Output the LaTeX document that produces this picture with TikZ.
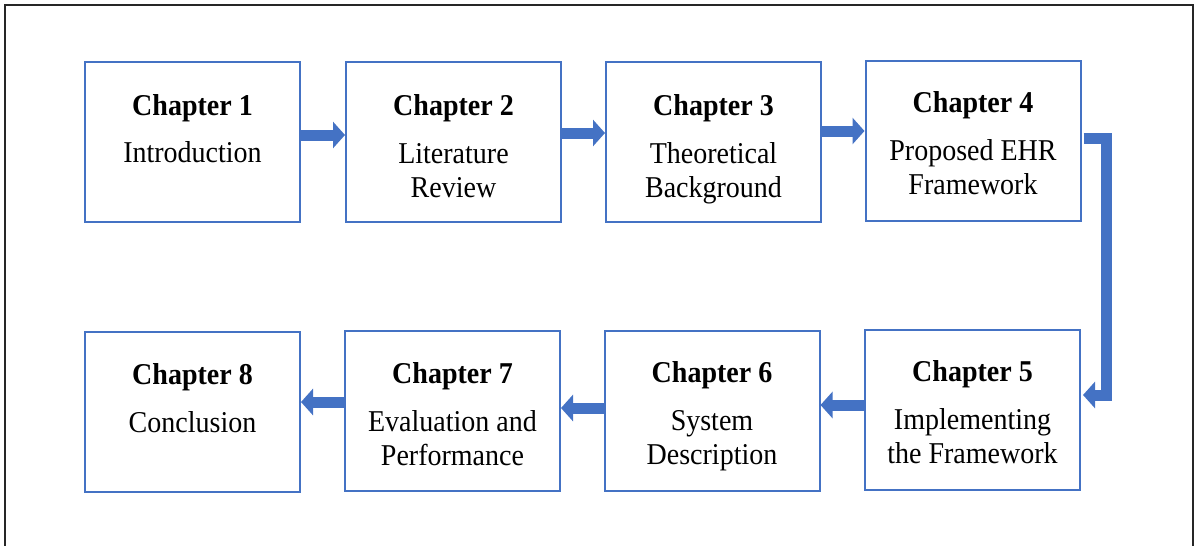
\documentclass[tikz,border=0pt]{standalone}
\usepackage{fontspec}
\setmainfont{Liberation Serif}
\usetikzlibrary{arrows.meta}
\definecolor{ofblue}{HTML}{4472C4}
\tikzset{
  chbox/.style={draw=ofblue, line width=2pt, minimum width=215pt, minimum height=160pt, inner sep=0pt, fill=white},
  chtitle/.style={anchor=base, inner sep=0pt, font=\fontsize{28}{33}\selectfont\bfseries},
  chtext/.style={anchor=base, inner sep=0pt, font=\fontsize{28}{33}\selectfont},
  flow/.style={draw=ofblue, line width=11pt, line join=miter, -{Triangle[width=26pt,length=12pt]}},
}
\newcommand{\tall}[1]{\scalebox{1}[1.08]{#1}}
\begin{document}
\begin{tikzpicture}[x=1pt,y=-1pt]
\useasboundingbox (0,0) rectangle (1197,546);
\draw[line width=2pt, black!85] (5,560) -- (5,5) -- (1193,5) -- (1193,560);
% boxes
\node[chbox] (c1) at (192.5,142) {};
\node[chbox] (c2) at (453.5,142) {};
\node[chbox] (c3) at (713.5,142) {};
\node[chbox] (c4) at (973,141) {};
\node[chbox] (c5) at (972.5,409.5) {};
\node[chbox] (c6) at (712,410.5) {};
\node[chbox] (c7) at (452.5,411) {};
\node[chbox] (c8) at (192.5,412) {};
% texts
\node[chtitle] (t1) at ([yshift=-54pt]c1.north) {\tall{Chapter 1}};
\node[chtext] (l1a) at ([yshift=-101pt]c1.north) {\tall{Introduction}};
\node[chtitle] (t2) at ([yshift=-54pt]c2.north) {\tall{Chapter 2}};
\node[chtext] (l2a) at ([yshift=-102pt]c2.north) {\tall{Literature}};
\node[chtext] (l2b) at ([yshift=-136pt]c2.north) {\tall{Review}};
\node[chtitle] (t3) at ([yshift=-54pt]c3.north) {\tall{Chapter 3}};
\node[chtext] (l3a) at ([yshift=-102pt]c3.north) {\tall{Theoretical}};
\node[chtext] (l3b) at ([yshift=-136pt]c3.north) {\tall{Background}};
\node[chtitle] (t4) at ([yshift=-52pt]c4.north) {\tall{Chapter 4}};
\node[chtext] (l4a) at ([yshift=-100pt]c4.north) {\tall{Proposed EHR}};
\node[chtext] (l4b) at ([yshift=-134pt]c4.north) {\tall{Framework}};
\node[chtitle] (t5) at ([yshift=-53pt]c5.north) {\tall{Chapter 5}};
\node[chtext] (l5a) at ([yshift=-101pt]c5.north) {\tall{Implementing}};
\node[chtext] (l5b) at ([yshift=-135pt]c5.north) {\tall{the Framework}};
\node[chtitle] (t6) at ([yshift=-53pt]c6.north) {\tall{Chapter 6}};
\node[chtext] (l6a) at ([yshift=-101pt]c6.north) {\tall{System}};
\node[chtext] (l6b) at ([yshift=-135pt]c6.north) {\tall{Description}};
\node[chtitle] (t7) at ([yshift=-53pt]c7.north) {\tall{Chapter 7}};
\node[chtext] (l7a) at ([yshift=-101pt]c7.north) {\tall{Evaluation and}};
\node[chtext] (l7b) at ([yshift=-135pt]c7.north) {\tall{Performance}};
\node[chtitle] (t8) at ([yshift=-53pt]c8.north) {\tall{Chapter 8}};
\node[chtext] (l8a) at ([yshift=-101pt]c8.north) {\tall{Conclusion}};
% connectors
\draw[flow] ([yshift=7pt]c1.east) -- ([yshift=7pt]c1.east -| c2.west);
\draw[flow] ([yshift=9pt]c2.east) -- ([yshift=9pt]c2.east -| c3.west);
\draw[flow] ([yshift=11pt]c3.east) -- ([yshift=11pt]c3.east -| c4.west);
\coordinate (k1) at (1106,138);
\coordinate (k2) at (1106,395);
\draw[flow] ([yshift=3pt,xshift=2pt]c4.east) -- (k1) -- (k2) -- ([xshift=2pt,yshift=14.5pt]c5.east);
\draw[flow] ([yshift=4.5pt]c5.west) -- ([yshift=4.5pt]c5.west -| c6.east);
\draw[flow] ([yshift=2.5pt]c6.west) -- ([yshift=2.5pt]c6.west -| c7.east);
\draw[flow] ([yshift=9pt]c7.west) -- ([yshift=9pt]c7.west -| c8.east);
\end{tikzpicture}
\end{document}
